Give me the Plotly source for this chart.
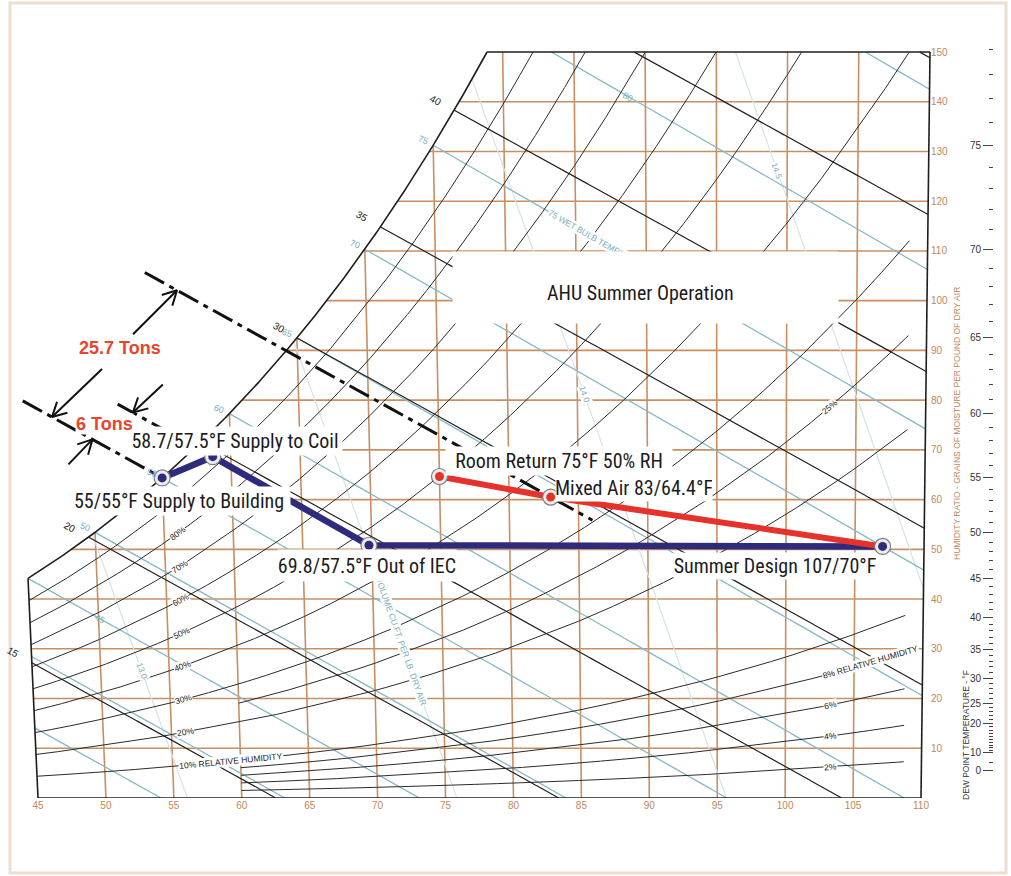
import math
import numpy as np
import plotly.graph_objects as go

# ---------------- process states ----------------
# blue path: building supply -> coil supply -> indirect evaporative cooler -> outdoor design
blue_db = [55.0, 58.7, 69.8, 107.0]
blue_wb = [55.0, 57.5, 57.5, 70.0]
blue_labels = ["55/55°F Supply to Building", "58.7/57.5°F Supply to Coil",
               "69.8/57.5°F Out of IEC", "Summer Design 107/70°F"]

# red path: room return -> mixed air -> outdoor design
room_db, room_rh = 75.0, 0.50
mixed_db, mixed_wb = 83.0, 64.4
red_labels = ["Room Return 75°F 50% RH", "Mixed Air 83/64.4°F"]

tons_labels = ["25.7 Tons", "6 Tons"]
title_text = "AHU Summer Operation"

# ---------------- axis ticks ----------------
db_ticks = list(range(45, 111, 5))
grain_ticks = list(range(10, 151, 10))
dew_major = [0, 10, 20, 25, 30, 35, 40, 45, 50, 55, 60, 65, 70, 75]
dew_minor = [5] + [d for d in range(11, 80) if d not in dew_major]

# ---------------- chart line families ----------------
rh_main = [10, 20, 30, 40, 50, 60, 70, 80, 90]
rh_low = [2, 4, 6, 8]
rh_extra = [25]
enthalpies = [15, 20, 25, 30, 35, 40, 45, 50]
enthalpy_labelled = [15, 20, 25, 30, 35, 40]
wet_bulbs = [35, 40, 45, 50, 55, 60, 65, 70, 75, 80, 85]
wet_bulb_labelled = [50, 55, 60, 65, 70, 75]
volumes = [13.0, 13.5, 14.0, 14.5]

# ---------------- psychrometrics (sea level, IP units) ----------------
P_ATM = 14.696
GR = 7000.0


def pws(t):
    t = np.asarray(t, dtype=float)
    T = t + 459.67
    ln_w = (-1.0440397e4 / T - 1.1294650e1 - 2.7022355e-2 * T + 1.2890360e-5 * T ** 2
            - 2.4780681e-9 * T ** 3 + 6.5459673 * np.log(T))
    ln_i = (-1.0214165e4 / T - 4.8932428 - 5.3765794e-3 * T + 1.9202377e-7 * T ** 2
            + 3.5575832e-10 * T ** 3 - 9.0344688e-14 * T ** 4 + 4.1635019 * np.log(T))
    return np.exp(np.where(t >= 32.0, ln_w, ln_i))


def gsat(t):
    p = pws(t)
    return 0.621945 * p / (P_ATM - p) * GR


def g_rh(t, phi):
    p = phi * pws(t)
    return 0.621945 * p / (P_ATM - p) * GR


def g_wb(t, twb):
    ws = gsat(twb) / GR
    return ((1093.0 - 0.556 * twb) * ws - 0.240 * (t - twb)) / (1093.0 + 0.444 * t - twb) * GR


def g_h(t, h):
    return (h - 0.240 * t) / (1061.0 + 0.444 * t) * GR


def g_v(t, v):
    return (v * P_ATM / (0.370486 * (t + 459.67)) - 1.0) / 1.607858 * GR


def enthalpy(t, g):
    w = g / GR
    return 0.240 * t + w * (1061.0 + 0.444 * t)


def solve(f, lo, hi, n=80):
    for _ in range(n):
        mid = 0.5 * (lo + hi)
        if f(mid) < 0:
            lo = mid
        else:
            hi = mid
    return 0.5 * (lo + hi)


# ---------------- chart geometry ----------------
FIG_W, FIG_H = 1011, 876
T_MIN, T_MAX = 45.0, 110.0
G_MAX = 150.0
PX_LEFT, PX_RIGHT = 38.0, 921.0
PY_BASE, PY_TOP = 798.0, 52.0
SX = (PX_RIGHT - PX_LEFT) / (T_MAX - T_MIN)
SY = (PY_BASE - PY_TOP) / G_MAX
X0 = T_MIN - PX_LEFT / SX
X1 = X0 + FIG_W / SX
Y1 = PY_BASE / SY
# dry-bulb lines fan out slightly with moisture content
SLANT0, SLANT1 = -0.226, 0.0044


def cx(t, g):
    return t + (SLANT0 + SLANT1 * (np.asarray(t) - T_MIN)) * np.asarray(g) / SX


def to_px(t, g):
    return (float(cx(t, g)) - X0) * SX, PY_BASE - float(g) * SY


def from_px(px, py):
    return X0 + px / SX, (PY_BASE - py) / SY


def clip(t, g, t_hi=T_MAX):
    m = ((t >= T_MIN - 1e-9) & (t <= t_hi + 1e-9) & (g >= -1e-9)
         & (g <= G_MAX + 1e-9) & (g <= gsat(t) + 1e-6))
    return t[m], g[m]


def curve(gfun, lo, hi, t_hi=T_MAX, n=4000):
    t = np.linspace(lo, hi, n)
    return clip(t, gfun(t), t_hi)


T_SAT_TOP = solve(lambda t: gsat(t) - G_MAX, 40.0, 120.0)


def t_sat_of(g):
    return solve(lambda t: gsat(t) - g, -20.0, 150.0)


fig = go.Figure()


def add_lines(curves, color, width, dash=None):
    xs, ys = [], []
    for t, g in curves:
        xs.extend(np.asarray(cx(t, g), dtype=float).tolist())
        ys.extend(np.asarray(g, dtype=float).tolist())
        xs.append(None)
        ys.append(None)
    fig.add_trace(go.Scatter(x=xs, y=ys, mode="lines",
                             line=dict(color=color, width=width, dash=dash),
                             hoverinfo="skip", showlegend=False))


ORANGE = "#c98f63"
ORANGE_TXT = "#c0875a"
TEAL = "#86b8c6"
TEAL_TXT = "#78adbd"
VOL = "#d6e3e8"
INK = "#2b2b2b"

# orange dry-bulb grid
vert = []
for t in db_ticks[1:-1]:
    top = min(float(gsat(t)), G_MAX)
    vert.append((np.array([t, t], float), np.array([0.0, top])))
# orange humidity-ratio grid
horiz = []
for g in grain_ticks[:-1]:
    t0 = max(T_MIN, t_sat_of(g))
    horiz.append((np.array([t0, T_MAX]), np.array([g, g], float)))
add_lines(vert + horiz, ORANGE, 1.6)

# specific volume lines (faint)
add_lines([curve(lambda t, v=v: g_v(t, v), T_MIN, T_MAX) for v in volumes], VOL, 1.2)

# wet-bulb lines
add_lines([curve(lambda t, w=w: g_wb(t, w), max(T_MIN, w), T_MAX) for w in wet_bulbs], TEAL, 1.3)

# relative humidity curves
rh_curves = [curve(lambda t, p=p: g_rh(t, p / 100.0), T_MIN, 108.7) for p in rh_main]
rh_curves += [curve(lambda t, p=p: g_rh(t, p / 100.0), 60.0, 108.7) for p in rh_low + rh_extra]
add_lines(rh_curves, INK, 1.0)

# enthalpy lines
h_curves = {h: curve(lambda t, h=h: g_h(t, h), T_MIN, T_MAX) for h in enthalpies}
add_lines(list(h_curves.values()), "#1f1f1f", 1.2)

# chart outline: saturation curve, 45 F line, base, 110 F line, top
ts = np.linspace(T_MIN, T_SAT_TOP, 400)
outline = [
    (ts, gsat(ts)),
    (np.array([T_MIN, T_MIN]), np.array([0.0, float(gsat(T_MIN))])),
    (np.array([T_MIN, T_MAX]), np.array([0.0, 0.0])),
    (np.array([T_MAX, T_MAX]), np.array([0.0, G_MAX])),
    (np.array([T_SAT_TOP, T_MAX]), np.array([G_MAX, G_MAX])),
]
add_lines(outline, "#1e1e1e", 1.6)

# ---------------- process states ----------------
blue_g = [float(g_wb(d, w)) for d, w in zip(blue_db, blue_wb)]
room_g = float(g_rh(room_db, room_rh))
mixed_g = float(g_wb(mixed_db, mixed_wb))
red_db = [room_db, mixed_db, blue_db[3]]
red_g = [room_g, mixed_g, blue_g[3]]

# constant-enthalpy load lines through mixed air, coil supply and building supply
h_upper = enthalpy(mixed_db, mixed_g)
h_mid = enthalpy(blue_db[1], blue_g[1])
h_low = enthalpy(blue_db[0], blue_g[0])
load_lines = [(h_upper, 54.3, 86.0), (h_mid, 52.0, blue_db[1]), (h_low, 45.2, blue_db[0])]
for h, a, b in load_lines:
    t = np.linspace(a, b, 200)
    g = g_h(t, h)
    fig.add_trace(go.Scatter(x=cx(t, g), y=g, mode="lines",
                             line=dict(color="#111111", width=3, dash="22px,6px,5px,6px"),
                             hoverinfo="skip", showlegend=False))

# dimension arrows: (enthalpy line, dry bulb of tip, tail offset in px)
arrows = [(h_upper, 56.55, -44, 44), (h_low, 47.25, 50, -48),
          (h_mid, 53.07, 30, -28), (h_low, 50.09, -24, 25)]
ax_x, ax_y = [], []
for h, t_tip, dx, dy in arrows:
    tx, ty = to_px(t_tip, g_h(t_tip, h))
    L = math.hypot(dx, dy)
    ux, uy = dx / L, dy / L
    pts = []
    for sgn in (1, -1):
        a = math.radians(28 * sgn)
        wx = ux * math.cos(a) - uy * math.sin(a)
        wy = ux * math.sin(a) + uy * math.cos(a)
        pts.append((tx + 16 * wx, ty + 16 * wy))
    seq = [pts[0], (tx, ty), pts[1], None, (tx + dx, ty + dy), (tx, ty), None]
    for p in seq:
        if p is None:
            ax_x.append(None)
            ax_y.append(None)
        else:
            xd, yd = from_px(*p)
            ax_x.append(xd)
            ax_y.append(yd)
fig.add_trace(go.Scatter(x=ax_x, y=ax_y, mode="lines", line=dict(color="#111111", width=2),
                         hoverinfo="skip", showlegend=False))

BLUE = "#2e2a7c"
RED = "#e5322b"
fig.add_trace(go.Scatter(x=cx(np.array(blue_db), np.array(blue_g)), y=blue_g, mode="lines",
                         line=dict(color=BLUE, width=6.5), hoverinfo="skip", showlegend=False))
fig.add_trace(go.Scatter(x=cx(np.array(red_db), np.array(red_g)), y=red_g, mode="lines",
                         line=dict(color=RED, width=6), hoverinfo="skip", showlegend=False))

all_db = blue_db + [room_db, mixed_db]
all_g = blue_g + [room_g, mixed_g]
all_fill = [BLUE] * 4 + [RED, RED]
fig.add_trace(go.Scatter(x=cx(np.array(all_db), np.array(all_g)), y=all_g, mode="markers",
                         marker=dict(size=16, color="#ececec", line=dict(color="#7d7d7d", width=1.2)),
                         hoverinfo="skip", showlegend=False))
fig.add_trace(go.Scatter(x=cx(np.array(all_db), np.array(all_g)), y=all_g, mode="markers",
                         marker=dict(size=9, color=all_fill), hoverinfo="skip", showlegend=False))

# dummy trace for the dew point scale
fig.add_trace(go.Scatter(x=[None], y=[None], yaxis="y2", showlegend=False, hoverinfo="skip"))

# ---------------- annotations ----------------
ann = []
SANS = "Liberation Sans, Arial, sans-serif"
NARROW = "Roboto Condensed, Noto Sans Condensed, Liberation Sans Narrow, Open Sans Condensed, sans-serif"


def at_px(px, py, text, **kw):
    xd, yd = from_px(px, py)
    d = dict(xref="x", yref="y", x=xd, y=yd, text=text, showarrow=False)
    d.update(kw)
    return d


def angle_on(gfun, t):
    x1, y1 = to_px(t - 0.3, gfun(t - 0.3))
    x2, y2 = to_px(t + 0.3, gfun(t + 0.3))
    return math.degrees(math.atan2(y2 - y1, x2 - x1))


def on_curve(gfun, t, text, size, color, bg=None):
    g = float(gfun(t))
    d = dict(xref="x", yref="y", x=float(cx(t, g)), y=g, text=text, showarrow=False,
             textangle=angle_on(gfun, t), font=dict(size=size, color=color, family=SANS))
    if bg:
        d.update(bgcolor=bg, borderpad=0)
    return d


# relative humidity labels
rh_label_specs = [(p, 56.0, f"{p}%") for p in rh_main[1:]]
rh_label_specs += [(10, 59.3, "10% RELATIVE HUMIDITY"), (2, 103.3, "2%"), (4, 103.3, "4%"),
                   (6, 103.3, "6%"), (8, 106.2, "8% RELATIVE HUMIDITY"), (25, 103.1, "25%")]
for p, t, txt in rh_label_specs:
    ann.append(on_curve(lambda tt, p=p: g_rh(tt, p / 100.0), t, txt, 8.5, "#222222", "white"))

# enthalpy labels just beyond the start of each line
for h in enthalpy_labelled:
    t, g = h_curves[h]
    x1, y1 = to_px(t[0], g[0])
    x2, y2 = to_px(t[40], g[40])
    L = math.hypot(x2 - x1, y2 - y1)
    ux, uy = (x2 - x1) / L, (y2 - y1) / L
    ann.append(at_px(x1 - 21 * ux, y1 - 21 * uy, str(h), textangle=math.degrees(math.atan2(uy, ux)),
                     font=dict(size=10, color="#222222", family=SANS)))

# wet-bulb labels at saturation
for w in wet_bulb_labelled:
    x, y = to_px(w, gsat(w))
    ann.append(at_px(x - 10, y - 5, str(w), textangle=20,
                     font=dict(size=9, color=TEAL_TXT, family=SANS)))
ann.append(on_curve(lambda tt: g_wb(tt, 45), 50.1, "45", 9, TEAL_TXT))
ann.append(on_curve(lambda tt: g_wb(tt, 80), 88.8, "80", 9, TEAL_TXT))
ann.append(on_curve(lambda tt: g_wb(tt, 75), 86.8, "75 WET BULB TEMPERATURE", 8.5, TEAL_TXT, "white"))

# specific volume labels


def v_label(v, t, text):
    return on_curve(lambda tt: g_v(tt, v), t, text, 8.5, TEAL_TXT, "white")


ann.append(v_label(13.0, 53.0, "13.0"))
ann.append(v_label(14.0, 85.5, "14.0"))
ann.append(v_label(14.5, 99.3, "14.5"))
ann.append(v_label(13.5, 72.0, "VOLUME CU.FT. PER LB. DRY AIR"))

# process state labels (white boxes)
label_font = dict(size=20, color="#1c1c1c", family=NARROW)
state_text = blue_labels + red_labels
state_shift = [(17, -23, 222, 28), (22, 16, 214, 28), (-2, -20, 178, 31), (-108, -20, 202, 26),
               (120, 15, 226, 28), (83, 10, 156, 27)]
for db, g, txt, (xs, ys, w, hgt) in zip(all_db, all_g, state_text, state_shift):
    ann.append(dict(xref="x", yref="y", x=float(cx(db, g)), y=g, text=txt, showarrow=False,
                    xshift=xs, yshift=ys, width=w, height=hgt, bgcolor="white", borderpad=0,
                    font=label_font))

# title panel and its text
ann.append(at_px(645.5, 287.5, " ", width=385, height=71, bgcolor="white", borderpad=0,
                 font=label_font))
ann.append(at_px(640, 293, title_text, font=label_font))

# load labels
TONS_RED = "#e8452c"
ann.append(at_px(120, 348, f"<b>{tons_labels[0]}</b>", font=dict(size=18, color=TONS_RED, family=SANS)))
ann.append(at_px(104, 424, f"<b>{tons_labels[1]}</b>", bgcolor="white", borderpad=0,
                 font=dict(size=18, color=TONS_RED, family=SANS)))

# axis titles and credit
ann.append(at_px(38, 822, "<b><i>Chart by: HANDS DOWN SOFTWARE, www.handsdownsoftware.com</i></b>",
                 xanchor="left", font=dict(size=11, color="#111111", family=SANS)))
ann.append(at_px(495, 824, "DRY BULB TEMPERATURE - °F", xanchor="left",
                 font=dict(size=9, color=ORANGE_TXT, family=SANS)))
ann.append(at_px(957, 424, "HUMIDITY RATIO - GRAINS OF MOISTURE PER POUND OF DRY AIR", textangle=-90,
                 font=dict(size=8.5, color=ORANGE_TXT, family=SANS)))
ann.append(at_px(966, 735, "DEW POINT TEMPERATURE - °F", textangle=-90,
                 font=dict(size=8.5, color="#333333", family=SANS)))

# page frame
shapes = [dict(type="rect", xref="paper", yref="paper",
               x0=10 / FIG_W, x1=1006 / FIG_W,
               y0=(PY_BASE - 873) / PY_BASE, y1=(PY_BASE - 3) / PY_BASE,
               line=dict(color="#ecdfd0", width=3), fillcolor="rgba(0,0,0,0)", layer="below")]

fig.update_layout(
    width=FIG_W, height=FIG_H,
    margin=dict(l=0, r=0, t=0, b=FIG_H - int(PY_BASE)),
    paper_bgcolor="white", plot_bgcolor="white",
    showlegend=False,
    annotations=ann, shapes=shapes,
    xaxis=dict(range=[X0, X1], tickmode="array", tickvals=db_ticks,
               ticktext=[str(v) for v in db_ticks], showgrid=False, zeroline=False,
               showline=False, ticks="", tickfont=dict(size=10, color=ORANGE_TXT, family=SANS)),
    yaxis=dict(range=[0, Y1], anchor="free", position=930 / FIG_W, side="right",
               tickmode="array", tickvals=grain_ticks, ticktext=[str(v) for v in grain_ticks],
               showgrid=False, zeroline=False, showline=False, ticks="",
               tickfont=dict(size=10, color=ORANGE_TXT, family=SANS)),
    yaxis2=dict(range=[0, Y1], overlaying="y", anchor="free", position=993 / FIG_W, side="left",
                tickmode="array", tickvals=[float(gsat(d)) for d in dew_major],
                ticktext=[str(d) for d in dew_major], ticks="outside", ticklen=10, tickwidth=1,
                tickcolor="#444444",
                minor=dict(tickmode="array", tickvals=[float(gsat(d)) for d in dew_minor],
                           ticks="outside", ticklen=4, tickwidth=1, tickcolor="#444444"),
                showgrid=False, zeroline=False, showline=False,
                tickfont=dict(size=10, color="#333333", family=SANS)),
)

fig.write_html("out.html", config={"displayModeBar": False})
